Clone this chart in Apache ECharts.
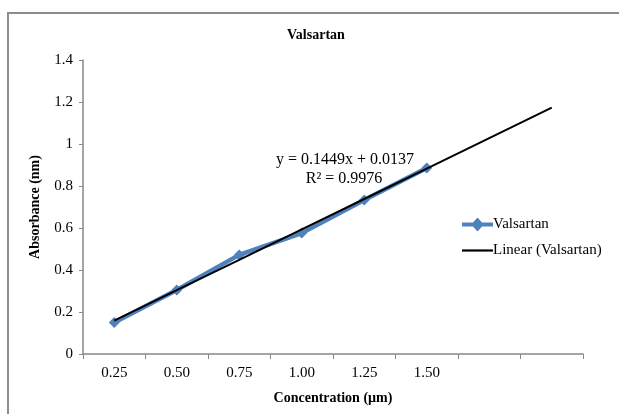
<!DOCTYPE html>
<html lang="en">
<head>
    <meta charset="UTF-8">
    <title>Valsartan</title>
    <script src="https://cdn.jsdelivr.net/npm/echarts@6/dist/echarts.min.js"></script>
    <style>
        * { margin: 0; padding: 0; box-sizing: border-box; }
        body { background: #fff; }
        #chart { width: 619px; height: 414px; }
    </style>
</head>
<body>
    <div id="chart"></div>
    <script>
        // categories (last two are the forecast slots of the trendline)
        const concentrations = ['0.25', '0.50', '0.75', '1.00', '1.25', '1.50', '', ''];
        const absorbance = [0.150, 0.305, 0.472, 0.576, 0.733, 0.886];
        // linear trendline as drawn, read at each category
        const trendValues = [0.159, 0.304, 0.448, 0.593, 0.738, 0.883, 1.028, 1.173];
        const equationText = 'y = 0.1449x + 0.0137';
        const r2Text = 'R² = 0.9976';

        const serif = '"Liberation Serif", "Times New Roman", serif';
        const chart = echarts.init(document.getElementById('chart'));

        const option = {
            animation: false,
            title: {
                text: 'Valsartan',
                left: 282,
                top: 23,
                textStyle: { fontFamily: serif, fontSize: 14, fontWeight: 'bold', color: '#000' }
            },
            grid: { left: 83, right: 36, top: 60, bottom: 60 },
            legend: {
                orient: 'vertical',
                left: 457,
                top: 212,
                itemWidth: 31,
                itemHeight: 14,
                itemGap: 11,
                textStyle: { fontFamily: serif, fontSize: 15, color: '#000', padding: [0, 0, 0, -5] },
                data: [
                    {
                        name: 'Valsartan',
                        icon: 'path://M0,5 L11,5 L15.5,0 L20,5 L31,5 L31,9 L20,9 L15.5,14 L11,9 L0,9 Z',
                        itemStyle: { color: '#4F81BD' }
                    },
                    {
                        name: 'Linear (Valsartan)',
                        icon: 'path://M0,0 L31,0 L31,2.2 L0,2.2 Z',
                        itemStyle: { color: '#000' }
                    }
                ]
            },
            xAxis: {
                type: 'category',
                data: concentrations,
                boundaryGap: true,
                name: 'Concentration (µm)',
                nameLocation: 'middle',
                nameGap: 37,
                nameTextStyle: { fontFamily: serif, fontSize: 14, fontWeight: 'bold', color: '#000' },
                axisLine: { lineStyle: { color: '#888', width: 1.5 } },
                axisTick: { show: true, alignWithLabel: false, length: 5, lineStyle: { color: '#888' } },
                axisLabel: { fontFamily: serif, fontSize: 15, color: '#000', margin: 12, interval: 0 },
                splitLine: { show: false }
            },
            yAxis: {
                type: 'value',
                min: 0,
                max: 1.4,
                interval: 0.2,
                name: 'Absorbance (nm)',
                nameLocation: 'middle',
                nameRotate: 90,
                nameGap: 41,
                nameTextStyle: { fontFamily: serif, fontSize: 14, fontWeight: 'bold', color: '#000' },
                axisLine: { show: true, lineStyle: { color: '#888', width: 1.5 } },
                axisTick: { show: true, length: 4, lineStyle: { color: '#888' } },
                axisLabel: { fontFamily: serif, fontSize: 15, color: '#000', margin: 10,
                    formatter: v => String(Math.round(v * 10) / 10) },
                splitLine: { show: false }
            },
            series: [
                {
                    name: 'Valsartan',
                    type: 'line',
                    data: absorbance,
                    symbol: 'diamond',
                    symbolSize: 11,
                    lineStyle: { color: '#4F81BD', width: 4.5 },
                    itemStyle: { color: '#4F81BD' },
                    z: 2
                },
                {
                    name: 'Linear (Valsartan)',
                    type: 'line',
                    data: trendValues,
                    symbol: 'none',
                    lineStyle: { color: '#000', width: 2 },
                    itemStyle: { color: '#000' },
                    z: 3
                }
            ],
            graphic: [
                {
                    type: 'rect',
                    shape: { x: 8, y: 13, width: 700, height: 500 },
                    style: { fill: 'none', stroke: '#8c8c8c', lineWidth: 2 },
                    silent: true
                },
                {
                    type: 'text',
                    x: 345,
                    y: 152,
                    style: { text: equationText, font: '16px ' + serif, fill: '#000', textAlign: 'center' }
                },
                {
                    type: 'text',
                    x: 344,
                    y: 171,
                    style: { text: r2Text, font: '16px ' + serif, fill: '#000', textAlign: 'center' }
                }
            ]
        };

        chart.setOption(option);
    </script>
</body>
</html>
